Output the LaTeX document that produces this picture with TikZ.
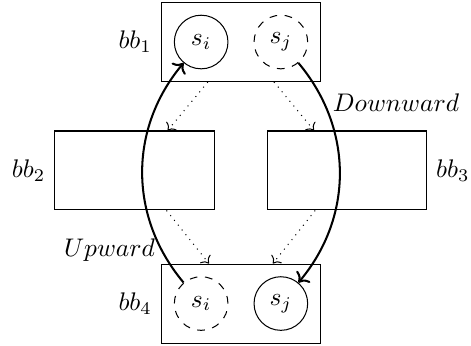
\documentclass[tikz,border=0pt]{standalone}
\usepackage{amsmath,amssymb}
\usepackage{tikz}
\usetikzlibrary{arrows.meta,positioning,calc}

\begin{document}
\begin{tikzpicture}[
  bbox/.style={draw,rectangle,minimum width=2.2cm,minimum height=1.09cm},
  state/.style={draw,circle,minimum size=0.74cm,inner sep=0pt},
  ghost/.style={state,dashed},
  flow/.style={->,dotted},
  move/.style={->,thick}
]
\useasboundingbox (-3.326,0.580) rectangle (3.174,-4.195);
% basic blocks
\node[bbox,label=left:$bb_1$] (bb1) at (0,0) {};
\node[bbox,label=left:$bb_2$] (bb2) at (-1.47,-1.773) {};
\node[bbox,label=right:$bb_3$] (bb3) at (1.463,-1.773) {};
\node[bbox,label=left:$bb_4$] (bb4) at (0,-3.609) {};
% statements
\node[state] (si1) at (-0.55,0) {$s_i$};
\node[ghost] (sj1) at (0.55,0) {$s_j$};
\node[ghost] (si4) at (-0.55,-3.609) {$s_i$};
\node[state] (sj4) at (0.55,-3.609) {$s_j$};
% control flow
\draw[flow] (bb1) -- (bb2);
\draw[flow] (bb1) -- (bb3);
\draw[flow] (bb2) -- (bb4);
\draw[flow] (bb3) -- (bb4);
% code motion
\draw[move] (si4) to[bend left=40] (si1);
\draw[move] (sj1) to[bend left=40] (sj4);
\node (up) at (-1.815,-2.87) {$Upward$};
\node (down) at (2.14,-0.84) {$Downward$};
\end{tikzpicture}
\end{document}
